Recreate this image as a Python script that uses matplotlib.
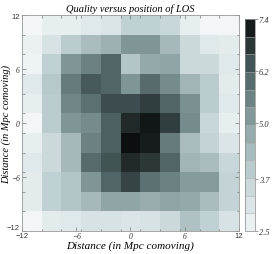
import numpy as np
import matplotlib
matplotlib.use("Agg")
import matplotlib.pyplot as plt
from matplotlib.colors import LinearSegmentedColormap

# quality values per cell, top row first (y = +12 down to -12), x from -12 to +12
quality = [
    [2.5, 2.8, 2.8, 3.0, 3.1, 3.8, 3.8, 3.6, 2.8, 2.5, 2.5],
    [2.7, 3.2, 3.9, 4.3, 4.6, 5.2, 5.2, 4.4, 3.5, 3.0, 2.9],
    [2.6, 3.8, 5.2, 5.6, 6.1, 4.1, 4.8, 4.9, 3.5, 3.5, 3.0],
    [3.0, 4.0, 5.7, 6.3, 6.1, 5.2, 6.0, 5.4, 4.5, 3.9, 2.9],
    [2.8, 3.9, 5.5, 5.9, 6.5, 6.5, 6.7, 6.1, 5.3, 3.9, 3.0],
    [2.5, 3.9, 5.2, 5.4, 6.2, 7.0, 7.3, 6.7, 5.4, 3.6, 2.8],
    [2.8, 3.5, 4.4, 5.6, 6.2, 7.4, 7.2, 5.7, 4.3, 3.7, 3.1],
    [3.0, 3.5, 4.4, 6.0, 6.4, 7.0, 6.8, 6.1, 4.5, 4.3, 3.6],
    [2.9, 3.8, 4.1, 5.2, 6.1, 6.6, 5.9, 5.6, 5.1, 5.1, 3.7],
    [2.9, 3.8, 4.1, 4.4, 4.9, 4.9, 4.7, 4.9, 4.8, 4.3, 3.7],
    [2.5, 2.9, 3.0, 3.2, 3.2, 3.1, 3.2, 3.5, 4.2, 3.8, 3.2],
]
vmin, vmax = 2.5, 7.4
cbar_ticks = [2.5, 3.7, 5.0, 6.2, 7.4]
major_ticks = [-12, -6, 0, 6, 12]

cmap = LinearSegmentedColormap.from_list("tealgray", [
    (0.00, "#f2f6f8"),
    (0.25, "#c3d3d5"),
    (0.50, "#8ea3a4"),
    (0.75, "#4e6264"),
    (1.00, "#0c0f0f"),
])

serif = "Liberation Serif"
sans = "Liberation Sans"

fig = plt.figure(figsize=(2.75, 2.55), dpi=100)
ax = fig.add_axes([0.08, 0.09, 0.789, 0.847])
cax = fig.add_axes([0.891, 0.09, 0.035, 0.832])

data = np.array(quality)[::-1]
edges = np.linspace(-12, 12, data.shape[0] + 1)
mesh = ax.pcolormesh(edges, edges, data, cmap=cmap, vmin=vmin, vmax=vmax)
ax.set_xlim(-12, 12)
ax.set_ylim(-12, 12)

ax.set_xticks(major_ticks)
ax.set_yticks(major_ticks)
ax.set_xticks(edges, minor=True)
ax.set_yticks(edges, minor=True)
ax.tick_params(which="both", direction="in", top=True, right=True, colors="#777777",
               labelcolor="#333333", labelsize=5.5, pad=1.5)
ax.tick_params(which="major", length=3, width=0.5)
ax.tick_params(which="minor", length=1.8, width=0.5)
ax.tick_params(axis="x", pad=1)
for s in ax.spines.values():
    s.set_color("#999999")
    s.set_linewidth(0.6)

for lab in ax.get_xticklabels() + ax.get_yticklabels():
    if lab.get_text().lstrip("\u2212-") == "12":
        lab.set_family(sans)
    else:
        lab.set_family(serif)
        lab.set_style("italic")
ax.get_yticklabels()[0].set_va("bottom")

ax.set_title("Quality versus position of LOS", fontsize=7.5, family=serif,
             style="italic", pad=3)
ax.set_xlabel("Distance (in Mpc comoving)", fontsize=8, family=serif,
              style="italic")
ax.xaxis.set_label_coords(0.5, -0.045)
ax.xaxis.label.set_va("top")
ax.set_ylabel("Distance (in Mpc comoving)", fontsize=7.5, family=serif,
              style="italic")
ax.yaxis.set_label_coords(-0.052, 0.5)

cb = fig.colorbar(mesh, cax=cax, boundaries=np.linspace(vmin, vmax, 13),
                  ticks=cbar_ticks)
cb.ax.set_yticklabels([f"{t:.1f}" for t in cbar_ticks], family=serif,
                      style="italic", fontsize=6, color="#333333")
cb.ax.tick_params(length=2, width=0.5, colors="#777777", labelcolor="#333333", pad=1)
cb.outline.set_edgecolor("#888888")
cb.outline.set_linewidth(0.5)
cb.ax.hlines(np.linspace(vmin, vmax, 13), 0, 1, colors="#aaaaaa", linewidth=0.4)

fig.savefig("out.png", dpi=100)
